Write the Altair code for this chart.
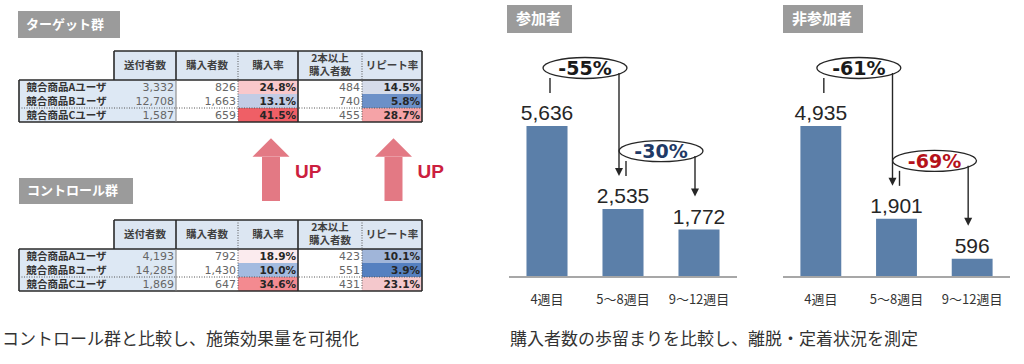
import altair as alt
import pandas as pd

# ---------------- data ----------------
group_titles = ["ターゲット群", "コントロール群"]
row_labels = ["競合商品Aユーザ", "競合商品Bユーザ", "競合商品Cユーザ"]
col_headers = ["送付者数", "購入者数", "購入率", "2本以上\n購入者数", "リピート率"]

target_sent = [3332, 12708, 1587]
target_buyers = [826, 1663, 659]
target_rate = [24.8, 13.1, 41.5]
target_multi = [484, 740, 455]
target_repeat = [14.5, 5.8, 28.7]

control_sent = [4193, 14285, 1869]
control_buyers = [792, 1430, 647]
control_rate = [18.9, 10.0, 34.6]
control_multi = [423, 551, 431]
control_repeat = [10.1, 3.9, 23.1]

up_label = "UP"
left_caption = "コントロール群と比較し、施策効果量を可視化"

panel_titles = ["参加者", "非参加者"]
weeks = ["4週目", "5～8週目", "9～12週目"]
participants = [5636, 2535, 1772]
non_participants = [4935, 1901, 596]
participant_drops = ["-55%", "-30%"]
non_participant_drops = ["-61%", "-69%"]
right_caption = "購入者数の歩留まりを比較し、離脱・定着状況を測定"

# ---------------- layout / style (not data) ----------------
W, H = 1024, 364
JP = "Noto Sans CJK JP"
NUM = "DejaVu Sans"
BOX_GREY = "#9b9b9b"
HEAD_BG = "#dce6f2"
LABEL_BG = "#dde8f4"
BAR_BLUE = "#5b7fa9"
UP_PINK = "#e37984"
UP_RED = "#cc1f3f"
drop_colors_1 = ["#1a1a1a", "#1f3a66"]
drop_colors_2 = ["#1a1a1a", "#b5121b"]
HEAD_LINE_H = 13

COL_EDGES = [19, 114, 176, 238, 298, 362, 422]
TABLES = [
    dict(box=(18, 120, 11, 38), head=(51, 80), rows=[80, 94, 108, 122]),
    dict(box=(19, 133, 178, 204), head=(220, 249), rows=[249, 263, 277, 291]),
]
table_values = [
    (target_sent, target_buyers, target_rate, target_multi, target_repeat),
    (control_sent, control_buyers, control_rate, control_multi, control_repeat),
]


def PX(f):
    return alt.X(f"{f}:Q", scale=alt.Scale(domain=[0, W], range=[0, W], nice=False, zero=False), axis=None)


def PY(f):
    return alt.Y(f"{f}:Q", scale=alt.Scale(domain=[0, H], range=[0, H], nice=False, zero=False), axis=None)


layers = []

# ---------- table backgrounds ----------
bg_rows, rate_rows, rep_rows = [], [], []
txt_head, txt_label, txt_num, txt_pct = [], [], [], []
box_rows, box_txt = [], []
for t, (lay, vals) in enumerate(zip(TABLES, table_values)):
    sent, buyers, rate, multi, repeat = vals
    ht, hb = lay["head"]
    rows = lay["rows"]
    bx0, bx1, by0, by1 = lay["box"]
    box_rows.append(dict(x=bx0, x2=bx1, y=by0, y2=by1))
    box_txt.append(dict(x=bx0 + 8, y=(by0 + by1) / 2, text=group_titles[t]))
    for c in range(5):
        bg_rows.append(dict(x=COL_EDGES[c + 1], x2=COL_EDGES[c + 2], y=ht, y2=hb, fill=HEAD_BG))
        nlines = col_headers[c].count("\n") + 1
        txt_head.append(dict(x=(COL_EDGES[c + 1] + COL_EDGES[c + 2]) / 2,
                             y=(ht + hb) / 2 - (nlines - 1) * HEAD_LINE_H / 2, text=col_headers[c]))
    for r in range(3):
        y0, y1 = rows[r], rows[r + 1]
        yc = (y0 + y1) / 2 + 0.5
        bg_rows.append(dict(x=COL_EDGES[0], x2=COL_EDGES[2], y=y0, y2=y1, fill=LABEL_BG))
        bg_rows.append(dict(x=COL_EDGES[2], x2=COL_EDGES[3], y=y0, y2=y1, fill="#ffffff"))
        bg_rows.append(dict(x=COL_EDGES[4], x2=COL_EDGES[5], y=y0, y2=y1, fill="#ffffff"))
        rate_rows.append(dict(x=COL_EDGES[3], x2=COL_EDGES[4], y=y0, y2=y1, v=rate[r]))
        rep_rows.append(dict(x=COL_EDGES[5], x2=COL_EDGES[6], y=y0, y2=y1, v=repeat[r]))
        txt_label.append(dict(x=(COL_EDGES[0] + COL_EDGES[1]) / 2, y=yc, text=row_labels[r]))
        for c, arr in ((1, sent), (2, buyers), (4, multi)):
            txt_num.append(dict(x=COL_EDGES[c + 1] - 2, y=yc, v=arr[r]))
        for c, arr in ((3, rate), (5, repeat)):
            txt_pct.append(dict(x=COL_EDGES[c + 1] - 2, y=yc, text=f"{arr[r]:.1f}%"))

layers.append(
    alt.Chart(pd.DataFrame(bg_rows)).mark_rect().encode(
        x=PX("x"), x2="x2", y=PY("y"), y2="y2", fill=alt.Fill("fill:N", scale=None)
    )
)
layers.append(
    alt.Chart(pd.DataFrame(rate_rows)).mark_rect().encode(
        x=PX("x"), x2="x2", y=PY("y"), y2="y2",
        fill=alt.Fill("v:Q", legend=None,
                      scale=alt.Scale(domain=[10, 19, 41.5], range=["#a3bbe0", "#fcecee", "#ef5f66"],
                                      interpolate="rgb")),
    )
)
layers.append(
    alt.Chart(pd.DataFrame(rep_rows)).mark_rect().encode(
        x=PX("x"), x2="x2", y=PY("y"), y2="y2",
        fill=alt.Fill("v:Q", legend=None,
                      scale=alt.Scale(domain=[3.9, 17, 28.7], range=["#5580c0", "#f3f0f4", "#f5a3a7"],
                                      interpolate="rgb")),
    )
)

# ---------- table borders ----------
thick, thin, dotted = [], [], []
for lay in TABLES:
    ht, hb = lay["head"]
    rows = lay["rows"]
    L, R = COL_EDGES[0], COL_EDGES[6]
    bot = rows[3]
    thick += [
        dict(x=L, x2=R, y=hb, y2=hb), dict(x=L, x2=R, y=bot, y2=bot),
        dict(x=L, x2=L, y=hb, y2=bot), dict(x=R, x2=R, y=ht, y2=bot),
        dict(x=COL_EDGES[1], x2=R, y=ht, y2=ht), dict(x=COL_EDGES[1], x2=COL_EDGES[1], y=ht, y2=hb),
        dict(x=COL_EDGES[4], x2=COL_EDGES[4], y=ht, y2=bot),
        dict(x=COL_EDGES[2], x2=COL_EDGES[2], y=ht, y2=hb),
    ]
    thin += [dict(x=COL_EDGES[2], x2=COL_EDGES[2], y=hb, y2=bot)]
    dotted += [
        dict(x=COL_EDGES[3], x2=COL_EDGES[3], y=ht, y2=bot),
        dict(x=COL_EDGES[5], x2=COL_EDGES[5], y=ht, y2=bot),
        dict(x=L, x2=R, y=rows[2], y2=rows[2]),
    ]
for d, kw in ((thick, dict(color="#2a2a2a", strokeWidth=1.6)),
              (thin, dict(color="#7f7f7f", strokeWidth=1)),
              (dotted, dict(color="#555555", strokeWidth=1, strokeDash=[1, 1.5]))):
    layers.append(alt.Chart(pd.DataFrame(d)).mark_rule(**kw).encode(x=PX("x"), x2="x2", y=PY("y"), y2="y2"))

# ---------- table texts ----------
layers.append(
    alt.Chart(pd.DataFrame(txt_head)).mark_text(
        font=JP, fontSize=10.5, fontWeight="bold", color="#404040", lineBreak="\n", lineHeight=HEAD_LINE_H,
        baseline="middle", align="center"
    ).encode(x=PX("x"), y=PY("y"), text="text:N")
)
layers.append(
    alt.Chart(pd.DataFrame(txt_label)).mark_text(
        font=JP, fontSize=10.5, fontWeight="bold", color="#333333", baseline="middle", align="center"
    ).encode(x=PX("x"), y=PY("y"), text="text:N")
)
layers.append(
    alt.Chart(pd.DataFrame(txt_num)).mark_text(
        font=NUM, fontSize=11, color="#666666", baseline="middle", align="right"
    ).encode(x=PX("x"), y=PY("y"), text=alt.Text("v:Q", format=","))
)
layers.append(
    alt.Chart(pd.DataFrame(txt_pct)).mark_text(
        font=NUM, fontSize=10.5, fontWeight="bold", color="#262626", baseline="middle", align="right"
    ).encode(x=PX("x"), y=PY("y"), text="text:N")
)

# ---------- title boxes ----------
RIGHT_BOXES = [(507, 572, 5, 33), (783, 863, 5, 33)]
for i, (bx0, bx1, by0, by1) in enumerate(RIGHT_BOXES):
    box_rows.append(dict(x=bx0, x2=bx1, y=by0, y2=by1))
layers.append(
    alt.Chart(pd.DataFrame(box_rows)).mark_rect(color=BOX_GREY).encode(x=PX("x"), x2="x2", y=PY("y"), y2="y2")
)
layers.append(
    alt.Chart(pd.DataFrame(box_txt)).mark_text(
        font=JP, fontSize=13, fontWeight="bold", color="white", baseline="middle", align="left"
    ).encode(x=PX("x"), y=PY("y"), text="text:N")
)
rbox_txt = [dict(x=b[0] + 9, y=(b[2] + b[3]) / 2, text=panel_titles[i]) for i, b in enumerate(RIGHT_BOXES)]
layers.append(
    alt.Chart(pd.DataFrame(rbox_txt)).mark_text(
        font=JP, fontSize=15, fontWeight="bold", color="white", baseline="middle", align="left"
    ).encode(x=PX("x"), y=PY("y"), text="text:N")
)

# ---------- UP arrows ----------
UP_X = [271, 393.5]
shafts = [dict(x=c - 9, x2=c + 9, y=157, y2=201) for c in UP_X]
heads = [dict(x=c, y=147.5) for c in UP_X]
ups = [dict(x=c + 24, y=172, text=up_label) for c in UP_X]
layers.append(alt.Chart(pd.DataFrame(shafts)).mark_rect(color=UP_PINK).encode(x=PX("x"), x2="x2", y=PY("y"), y2="y2"))
layers.append(
    alt.Chart(pd.DataFrame(heads)).mark_point(
        shape="M-1,0.5L0,-0.5L1,0.5Z", size=1369, filled=True, color=UP_PINK, opacity=1, strokeWidth=0
    ).encode(x=PX("x"), y=PY("y"))
)
layers.append(
    alt.Chart(pd.DataFrame(ups)).mark_text(
        font="Liberation Sans", fontSize=19, fontWeight="bold", color=UP_RED, baseline="middle", align="left"
    ).encode(x=PX("x"), y=PY("y"), text="text:N")
)

# ---------- captions ----------
caps = [dict(x=2, y=340, text=left_caption), dict(x=510, y=340, text=right_caption)]
layers.append(
    alt.Chart(pd.DataFrame(caps)).mark_text(
        font=JP, fontSize=17, color="#333333", baseline="middle", align="left"
    ).encode(x=PX("x"), y=PY("y"), text="text:N")
)

# ---------- bar panels ----------
ELLIPSE = "M-1,0A1,0.25,0,1,1,1,0A1,0.25,0,1,1,-1,0Z"
E_DX = 38


def bar_panel(values, drops, colors, x0, x1):
    xs = alt.Scale(domain=weeks, range=[x0, x1], paddingInner=0.46, paddingOuter=0.23)
    ys = alt.Scale(domain=[0, max(values)], range=[277, 126], nice=False, zero=True)
    X = lambda f: alt.X(f"{f}:N", scale=xs, axis=None, sort=weeks)
    Y = lambda f: alt.Y(f"{f}:Q", scale=ys, axis=None)
    bars = pd.DataFrame({"week": weeks, "v": values})
    dd = pd.DataFrame({
        "frm": weeks[:-1], "to": weeks[1:], "fv": values[:-1], "tv": values[1:],
        "label": drops, "col": colors,
    })
    out = [
        alt.Chart(bars).mark_bar(color=BAR_BLUE).encode(x=X("week"), y=Y("v")),
        alt.Chart(bars).mark_rule(color="#a6a6a6", strokeWidth=1.5).encode(
            x=alt.value(x0), x2=alt.value(x1), y=alt.value(277)),
        alt.Chart(bars).mark_text(
            font="Liberation Sans", fontSize=21, color="#262626", dy=-6, baseline="alphabetic"
        ).encode(x=X("week"), y=Y("v"), text=alt.Text("v:Q", format=",")),
        alt.Chart(bars).mark_text(font=JP, fontSize=13, color="#333333", baseline="middle").encode(
            x=X("week"), y=alt.value(300), text="week:N"),
        alt.Chart(dd).mark_rule(color="#262626", strokeWidth=1.4, xOffset=3, yOffset=-48, y2Offset=-33).encode(
            x=X("frm"), y=Y("fv"), y2="fv"),
        alt.Chart(dd).mark_point(
            shape=ELLIPSE, size=84 * 84, filled=True, fill="white", stroke="#262626", strokeWidth=1.3,
            opacity=1, fillOpacity=1, strokeOpacity=1, xOffset=E_DX, yOffset=-58
        ).encode(x=X("frm"), y=Y("fv")),
        alt.Chart(dd).mark_rule(color="#262626", strokeWidth=1.4, xOffset=-4, yOffset=-53, y2Offset=-39).encode(
            x=X("to"), y=Y("fv"), y2="tv"),
        alt.Chart(dd).mark_point(
            shape="M-1,-1L1,-1L0,1Z", size=64, filled=True, color="#262626", opacity=1, strokeWidth=0,
            xOffset=-4, yOffset=-37
        ).encode(x=X("to"), y=Y("tv")),
        alt.Chart(dd).mark_text(
            font=NUM, fontSize=19, fontWeight="bold", baseline="middle", dx=E_DX, dy=-57
        ).encode(x=X("frm"), y=Y("fv"), text="label:N", color=alt.Color("col:N", scale=None)),
    ]
    return out


layers += bar_panel(participants, participant_drops, drop_colors_1, 509, 737)
layers += bar_panel(non_participants, non_participant_drops, drop_colors_2, 783, 1010)

chart = (
    alt.layer(*layers)
    .resolve_scale(x="independent", y="independent", fill="independent", color="independent")
    .properties(width=W, height=H, autosize=alt.AutoSizeParams(type="none"), padding=0, background="white")
    .configure_view(stroke=None)
)

chart.save("out.html", embed_options={"renderer": "svg", "actions": False})
